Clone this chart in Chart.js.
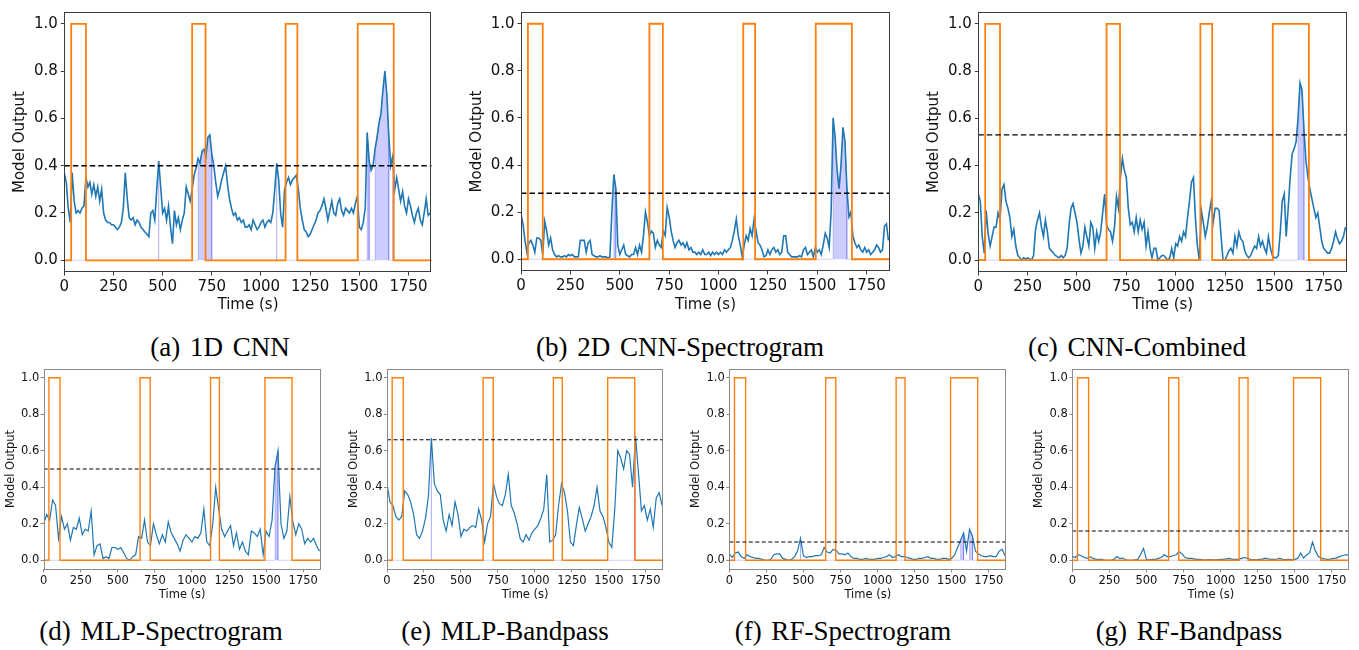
<!DOCTYPE html>
<html>
<head>
<meta charset="utf-8">
<script src="https://cdn.jsdelivr.net/npm/chart.js"></script>
<style>
  html, body { margin: 0; padding: 0; background: #fff; }
  body { width: 1359px; height: 650px; position: relative; overflow: hidden; }
  canvas { position: absolute; }
  .caption {
    position: absolute;
    font-family: "Liberation Serif", "Times New Roman", serif;
    font-size: 27px;
    line-height: 27px;
    word-spacing: 3px;
    color: #000;
    white-space: nowrap;
    transform: translateX(-50%);
  }
</style>
</head>
<body>
<script>
// time grid: top row sampled every 10 s, bottom row every 20 s
var STEP_TOP = 10;
var STEP_BOTTOM = 20;
var X_MAX = 1868;

// annotated seizure windows (s)
var seizureStart = [35, 650, 1125, 1492];
var seizureEnd = [110, 718, 1185, 1675];

var xTicks = [0, 250, 500, 750, 1000, 1250, 1500, 1750];
var yTicks = [0, 0.2, 0.4, 0.6, 0.8, 1.0];

var captions = ["(a) 1D CNN", "(b) 2D CNN-Spectrogram", "(c) CNN-Combined",
  "(d) MLP-Spectrogram", "(e) MLP-Bandpass", "(f) RF-Spectrogram", "(g) RF-Bandpass"];
var thresholds = [0.40, 0.28, 0.53, 0.50, 0.66, 0.10, 0.16];

var cnn1d = [
  0.37,0.33,0.22,0.16,0.37,0.25,0.20,0.21,0.20,0.22,
  0.23,0.35,0.31,0.33,0.28,0.32,0.27,0.31,0.25,0.30,
  0.20,0.17,0.16,0.16,0.15,0.15,0.14,0.13,0.14,0.16,
  0.22,0.37,0.26,0.18,0.17,0.18,0.15,0.17,0.16,0.14,
  0.13,0.12,0.11,0.10,0.20,0.21,0.17,0.30,0.42,0.31,
  0.20,0.22,0.17,0.23,0.14,0.07,0.21,0.15,0.18,0.13,
  0.17,0.20,0.31,0.28,0.25,0.30,0.36,0.39,0.43,0.41,
  0.46,0.47,0.44,0.52,0.53,0.45,0.40,0.33,0.27,0.30,
  0.34,0.37,0.40,0.32,0.26,0.22,0.19,0.20,0.17,0.18,
  0.16,0.17,0.14,0.14,0.15,0.13,0.17,0.15,0.13,0.14,
  0.16,0.17,0.14,0.16,0.17,0.16,0.20,0.30,0.41,0.34,
  0.20,0.14,0.30,0.33,0.35,0.32,0.34,0.35,0.36,0.30,
  0.22,0.17,0.13,0.12,0.10,0.11,0.13,0.15,0.17,0.20,
  0.21,0.23,0.26,0.22,0.17,0.21,0.25,0.20,0.19,0.24,
  0.26,0.21,0.19,0.22,0.21,0.20,0.22,0.20,0.24,0.27,
  0.14,0.13,0.16,0.22,0.54,0.42,0.38,0.40,0.47,0.52,
  0.58,0.62,0.72,0.80,0.70,0.52,0.40,0.44,0.30,0.35,
  0.30,0.25,0.29,0.23,0.20,0.26,0.23,0.19,0.16,0.20,
  0.22,0.17,0.15,0.20,0.26,0.19,0.20
];

var cnn2dSpec = [
  0.19,0.15,0.08,0.03,0.07,0.08,0.06,0.03,0.09,0.09,
  0.08,0.02,0.16,0.12,0.06,0.09,0.04,0.02,0.01,0.015,
  0.01,0.01,0.015,0.01,0.02,0.015,0.02,0.01,0.01,0.01,
  0.08,0.08,0.08,0.03,0.07,0.08,0.02,0.015,0.01,0.01,
  0.015,0.01,0.01,0.01,0.005,0.01,0.20,0.36,0.30,0.06,
  0.02,0.04,0.06,0.02,0.015,0.01,0.02,0.02,0.05,0.02,
  0.06,0.03,0.10,0.20,0.16,0.10,0.12,0.11,0.05,0.08,
  0.06,0.05,0.12,0.10,0.22,0.18,0.12,0.08,0.05,0.07,
  0.08,0.06,0.07,0.05,0.07,0.04,0.05,0.03,0.03,0.02,
  0.03,0.02,0.04,0.02,0.02,0.03,0.015,0.03,0.02,0.03,
  0.02,0.03,0.02,0.04,0.03,0.04,0.05,0.08,0.12,0.17,
  0.10,0.06,0.01,0.06,0.10,0.08,0.13,0.10,0.17,0.12,
  0.07,0.06,0.04,0.01,0.015,0.04,0.02,0.04,0.05,0.03,
  0.04,0.02,0.03,0.10,0.10,0.03,0.02,0.01,0.01,0.01,
  0.01,0.015,0.01,0.04,0.05,0.02,0.03,0.04,0.01,0.05,
  0.03,0.04,0.02,0.06,0.11,0.09,0.05,0.20,0.60,0.52,
  0.38,0.30,0.40,0.56,0.50,0.30,0.18,0.20,0.10,0.07,
  0.05,0.06,0.04,0.03,0.05,0.03,0.04,0.02,0.03,0.04,
  0.06,0.05,0.03,0.04,0.14,0.15,0.08
];

var cnnCombined = [
  0.28,0.25,0.10,0.03,0.21,0.11,0.06,0.10,0.14,0.14,
  0.20,0.17,0.30,0.32,0.25,0.22,0.18,0.10,0.13,0.06,
  0.02,0.01,0.00,0.01,0.005,0.01,0.005,0.00,0.02,0.13,
  0.17,0.20,0.14,0.10,0.17,0.12,0.05,0.04,0.03,0.02,
  0.015,0.01,0.02,0.01,0.02,0.05,0.15,0.22,0.24,0.20,
  0.16,0.09,0.03,0.06,0.14,0.10,0.06,0.16,0.14,0.05,
  0.12,0.08,0.12,0.20,0.28,0.15,0.13,0.12,0.08,0.14,
  0.27,0.22,0.35,0.43,0.38,0.35,0.22,0.15,0.16,0.12,
  0.18,0.12,0.17,0.13,0.16,0.06,0.12,0.05,0.01,0.05,
  0.05,0.00,0.01,0.02,0.02,0.01,0.00,0.01,0.05,0.01,
  0.07,0.06,0.10,0.08,0.12,0.10,0.18,0.25,0.33,0.35,
  0.18,0.06,0.00,0.21,0.16,0.10,0.14,0.20,0.25,0.16,
  0.22,0.22,0.21,0.10,0.00,0.00,0.02,0.04,0.05,0.03,
  0.10,0.06,0.12,0.09,0.08,0.04,0.02,0.01,0.02,0.04,
  0.06,0.05,0.10,0.06,0.08,0.05,0.03,0.10,0.05,0.02,
  0.01,0.01,0.02,0.12,0.25,0.28,0.10,0.22,0.35,0.45,
  0.47,0.50,0.60,0.75,0.72,0.55,0.42,0.35,0.30,0.26,
  0.22,0.18,0.20,0.14,0.08,0.05,0.04,0.03,0.03,0.05,
  0.08,0.12,0.09,0.07,0.08,0.10,0.14
];

var mlpSpec = [
  0.20,0.25,0.22,0.33,0.30,0.12,0.24,0.17,0.20,0.11,
  0.18,0.17,0.23,0.14,0.17,0.16,0.27,0.03,0.08,0.09,
  0.01,0.02,0.01,0.07,0.07,0.06,0.07,0.04,0.01,0.00,
  0.02,0.03,0.13,0.12,0.22,0.10,0.08,0.20,0.14,0.09,
  0.14,0.10,0.21,0.15,0.12,0.09,0.05,0.11,0.14,0.12,
  0.10,0.13,0.12,0.15,0.28,0.10,0.08,0.20,0.40,0.28,
  0.17,0.13,0.16,0.19,0.08,0.15,0.06,0.10,0.05,0.03,
  0.16,0.15,0.13,0.17,0.03,0.16,0.13,0.22,0.51,0.60,
  0.20,0.12,0.16,0.35,0.21,0.14,0.20,0.17,0.09,0.12,
  0.10,0.12,0.08,0.05
];

var mlpBand = [
  0.42,0.32,0.30,0.24,0.22,0.24,0.38,0.36,0.32,0.25,
  0.14,0.12,0.16,0.23,0.35,0.67,0.42,0.38,0.36,0.22,
  0.16,0.25,0.19,0.32,0.25,0.13,0.17,0.16,0.18,0.19,
  0.18,0.28,0.22,0.10,0.20,0.24,0.42,0.35,0.31,0.30,
  0.36,0.47,0.30,0.26,0.20,0.12,0.10,0.14,0.11,0.15,
  0.17,0.19,0.23,0.28,0.47,0.10,0.11,0.14,0.30,0.42,
  0.37,0.27,0.10,0.08,0.19,0.29,0.23,0.16,0.20,0.24,
  0.30,0.40,0.27,0.24,0.18,0.10,0.07,0.28,0.60,0.56,
  0.50,0.60,0.58,0.40,0.68,0.48,0.27,0.30,0.22,0.28,
  0.18,0.34,0.37,0.30
];

var rfSpec = [
  0.035,0.015,0.04,0.045,0.02,0.01,0.03,0.02,0.015,0.01,
  0.01,0.005,0.0,0.0,0.005,0.03,0.035,0.035,0.01,0.005,
  0.0,0.005,0.02,0.05,0.12,0.025,0.015,0.02,0.02,0.025,
  0.025,0.03,0.07,0.045,0.04,0.06,0.055,0.035,0.035,0.03,
  0.04,0.02,0.01,0.01,0.005,0.005,0.01,0.005,0.005,0.005,
  0.01,0.01,0.015,0.02,0.03,0.015,0.02,0.03,0.02,0.02,
  0.015,0.01,0.005,0.005,0.01,0.01,0.015,0.02,0.01,0.01,
  0.005,0.005,0.01,0.01,0.005,0.01,0.03,0.07,0.11,0.15,
  0.05,0.17,0.13,0.05,0.035,0.025,0.02,0.02,0.025,0.02,
  0.02,0.05,0.06,0.025
];

var rfBand = [
  0.02,0.015,0.03,0.025,0.015,0.01,0.02,0.01,0.005,0.005,
  0.005,0.0,0.0,0.0,0.005,0.02,0.01,0.012,0.003,0.0,
  0.0,0.002,0.005,0.03,0.065,0.005,0.003,0.005,0.005,0.01,
  0.015,0.03,0.02,0.02,0.025,0.03,0.048,0.035,0.015,0.01,
  0.01,0.008,0.005,0.005,0.003,0.003,0.004,0.003,0.003,0.004,
  0.005,0.005,0.008,0.01,0.005,0.005,0.005,0.01,0.015,0.012,
  0.005,0.004,0.003,0.005,0.005,0.012,0.008,0.005,0.005,0.007,
  0.01,0.005,0.004,0.005,0.004,0.005,0.01,0.04,0.012,0.03,
  0.04,0.10,0.05,0.02,0.012,0.008,0.005,0.006,0.01,0.012,
  0.02,0.025,0.03,0.03
];

function timeAxis(n, step) {
  var t = [];
  for (var i = 0; i < n; i++) t.push(i * step);
  return t;
}

function seizurePoints() {
  var pts = [{ x: 0, y: 0 }];
  for (var i = 0; i < seizureStart.length; i++) {
    pts.push({ x: seizureStart[i], y: 0 }, { x: seizureStart[i], y: 1 },
             { x: seizureEnd[i], y: 1 }, { x: seizureEnd[i], y: 0 });
  }
  pts.push({ x: X_MAX, y: 0 });
  return pts;
}

// area under the output wherever it is above the threshold
function fillPoints(times, values, thr) {
  var pts = [{ x: 0, y: 0 }];
  var inRun = false;
  for (var i = 0; i < values.length; i++) {
    var above = values[i] > thr;
    if (above && !inRun) { pts.push({ x: times[i], y: 0 }); inRun = true; }
    if (!above && inRun) { pts.push({ x: times[i - 1], y: 0 }); inRun = false; }
    if (above) pts.push({ x: times[i], y: values[i] });
  }
  if (inRun) pts.push({ x: times[values.length - 1], y: 0 });
  pts.push({ x: X_MAX, y: 0 });
  return pts;
}

var framePlugin = {
  id: "frame",
  afterDatasetsDraw: function (chart, args, opts) {
    var a = chart.chartArea, ctx = chart.ctx;
    ctx.save();
    ctx.strokeStyle = opts.color;
    ctx.lineWidth = 1;
    ctx.strokeRect(Math.round(a.left) + 0.5, Math.round(a.top) + 0.5,
                   Math.round(a.right - a.left) - 1, Math.round(a.bottom - a.top) - 1);
    ctx.restore();
  }
};

var rowStyle = {
  top: { font: 15, tick: 3.5, tickPad: 3, blue: 1.6, orange: 1.8, dashW: 1.4, dash: [5.5, 3],
         frame: "#3c3c3c", yTitle: 44, xTitle: 15 },
  bottom: { font: 11.5, tick: 3, tickPad: 1.5, blue: 1.2, orange: 1.4, dashW: 1.1, dash: [4, 2.5],
            frame: "#8a8a8a", yTitle: 33, xTitle: 15 }
};

var panels = [
  { values: cnn1d, step: STEP_TOP, row: "top", box: [0, 0, 455, 320], plot: [64.3, 431.7, 5.9, 272.1] },
  { values: cnn2dSpec, step: STEP_TOP, row: "top", box: [455, 0, 455, 320], plot: [521, 890, 4.6, 271] },
  { values: cnnCombined, step: STEP_TOP, row: "top", box: [910, 0, 449, 320], plot: [978.3, 1347, 5.6, 272] },
  { values: mlpSpec, step: STEP_BOTTOM, row: "bottom", box: [0, 360, 340, 250], plot: [43.7, 320.7, 368.6, 569.4] },
  { values: mlpBand, step: STEP_BOTTOM, row: "bottom", box: [340, 360, 340, 250], plot: [387, 663.3, 368.6, 569.4] },
  { values: rfSpec, step: STEP_BOTTOM, row: "bottom", box: [680, 360, 340, 250], plot: [729.3, 1006.3, 368.6, 569.4] },
  { values: rfBand, step: STEP_BOTTOM, row: "bottom", box: [1020, 360, 339, 250], plot: [1072.3, 1349.3, 368.6, 569.4] }
];

var captionPos = [[220, 334], [680, 334], [1137, 334], [161, 618], [505, 618], [843, 618], [1189, 618]];

function makePanel(p, idx) {
  var st = rowStyle[p.row];
  var bx = p.box, pl = p.plot;
  var canvas = document.createElement("canvas");
  canvas.width = bx[2];
  canvas.height = bx[3];
  canvas.style.left = bx[0] + "px";
  canvas.style.top = bx[1] + "px";
  document.body.appendChild(canvas);

  var times = timeAxis(p.values.length, p.step);
  var thr = thresholds[idx];
  var output = p.values.map(function (v, i) { return { x: times[i], y: v }; });
  var half = st.font * 1.2 / 2;
  var font = { family: "DejaVu Sans", size: st.font };

  new Chart(canvas.getContext("2d"), {
    type: "line",
    data: {
      datasets: [
        { data: [{ x: 0, y: thr }, { x: X_MAX, y: thr }], borderColor: "#000",
          borderWidth: st.dashW, borderDash: st.dash, pointRadius: 0 },
        { data: seizurePoints(), borderColor: "#ff7f0e", borderWidth: st.orange, pointRadius: 0 },
        { data: output, borderColor: "#1f77b4", borderWidth: st.blue, pointRadius: 0 },
        { data: fillPoints(times, p.values, thr), borderColor: "rgba(0,0,255,0.18)", borderWidth: 1,
          backgroundColor: "rgba(0,0,255,0.2)", fill: "origin", pointRadius: 0 }
      ]
    },
    options: {
      responsive: false,
      animation: false,
      events: [],
      layout: { padding: { top: pl[2] - bx[1], right: bx[0] + bx[2] - pl[1], bottom: 0, left: 0 } },
      elements: { line: { tension: 0 } },
      plugins: { legend: { display: false }, tooltip: { enabled: false }, frame: { color: st.frame } },
      scales: {
        x: {
          type: "linear", min: 0, max: X_MAX,
          afterBuildTicks: function (s) { s.ticks = xTicks.map(function (v) { return { value: v }; }); },
          afterFit: function (s) { s.height = bx[1] + bx[3] - pl[3]; },
          grid: { drawOnChartArea: false, drawTicks: true, tickLength: st.tick, color: st.frame },
          border: { display: false },
          ticks: { color: "#111", font: font, padding: st.tickPad, maxRotation: 0, autoSkip: false,
                   callback: function (v) { return String(v); } },
          title: { display: true, text: "Time (s)", color: "#111", font: font,
                   padding: { top: 0, bottom: st.xTitle - half } }
        },
        y: {
          min: -0.05, max: 1.05,
          afterBuildTicks: function (s) { s.ticks = yTicks.map(function (v) { return { value: v }; }); },
          afterFit: function (s) { s.width = pl[0] - bx[0]; },
          grid: { drawOnChartArea: false, drawTicks: true, tickLength: st.tick, color: st.frame },
          border: { display: false },
          ticks: { color: "#111", font: font, padding: st.tickPad,
                   callback: function (v) { return v.toFixed(1); } },
          title: { display: true, text: "Model Output", color: "#111", font: font,
                   padding: { top: pl[0] - st.yTitle - bx[0] - half, bottom: 0 } }
        }
      }
    },
    plugins: [framePlugin]
  });

  var cap = document.createElement("div");
  cap.className = "caption";
  cap.textContent = captions[idx];
  cap.style.left = captionPos[idx][0] + "px";
  cap.style.top = captionPos[idx][1] + "px";
  document.body.appendChild(cap);
}

document.addEventListener("DOMContentLoaded", function () {
  panels.forEach(makePanel);
});
</script>
</body>
</html>
